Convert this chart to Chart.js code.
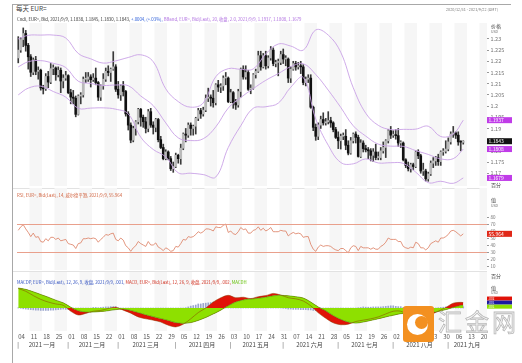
<!DOCTYPE html>
<html>
<head>
<meta charset="utf-8">
<title>每天 EUR=</title>
<script src="https://cdn.jsdelivr.net/npm/chart.js@4.4.1/dist/chart.umd.min.js"></script>
<style>
  body { margin: 0; width: 522px; height: 363px; overflow: hidden; position: relative; background: #fff;
         font-family: "Noto Sans CJK SC", "Noto Sans", sans-serif; }
  canvas { position: absolute; left: 0; }
  .line { position: absolute; background: #a8a8a8; }
  #title { position: absolute; left: 16px; top: 5px; font-size: 6.5px; color: #444; line-height: 1; white-space: nowrap; }
  #logo { position: absolute; left: 403px; top: 306px; width: 31px; height: 36px; background: #f39020; border-radius: 3px; overflow: hidden; }
  #ring { position: absolute; left: 4px; top: 8px; width: 21px; height: 21px; border-radius: 50%; background: #fff; }
  #ring::after { content: ''; position: absolute; left: 8px; top: 2px; width: 13px; height: 13px; border-radius: 50%; background: #f39020; }
  #brand { position: absolute; left: 438px; top: 305px; font-size: 24px; letter-spacing: 3px; line-height: 1.3;
           color: rgba(246,246,246,0.85); -webkit-text-stroke: 0.8px #b8b8b8; white-space: nowrap; }
</style>
</head>
<body>
<div class="line" style="left:12px;top:4px;width:1px;height:359px"></div>
<div class="line" style="left:12px;top:4px;width:499px;height:1px"></div>
<div class="line" style="left:13px;top:188px;width:474px;height:1px;background:#e2e2e2"></div>
<div class="line" style="left:13px;top:271px;width:474px;height:1px;background:#e2e2e2"></div>
<div id="title">每天 EUR=</div>
<canvas id="main" width="522" height="188" style="top:0"></canvas>
<canvas id="rsi" width="522" height="84" style="top:188px"></canvas>
<canvas id="macd" width="522" height="91" style="top:272px"></canvas>
<div id="logo"><div id="ring"></div></div>
<div id="brand">汇金网</div>
<script>
const FONT = '"Noto Sans CJK SC", "Noto Sans", sans-serif'
Chart.defaults.font.family = FONT

// daily candles, 4 Jan - 9 Sep 2021
const opens = [1.2215,1.2250,1.2297,1.2324,1.2271,1.2220,1.2151,1.2206,1.2155,1.2160,
  1.2081,1.2077,1.2132,1.2107,1.2167,1.2170,1.2140,1.2160,1.2112,1.2125,
  1.2136,1.2060,1.2040,1.2035,1.1963,1.2045,1.2050,1.2120,1.2120,1.2130,
  1.2118,1.2125,1.2105,1.2040,1.2090,1.2120,1.2155,1.2150,1.2165,1.2175,
  1.2075,1.2050,1.2090,1.2065,1.1965,1.1915,1.1848,1.1900,1.1930,1.1985,
  1.1950,1.1930,1.1900,1.1975,1.1915,1.1905,1.1940,1.1850,1.1815,1.1765,
  1.1795,1.1765,1.1720,1.1730,1.1780,1.1765,1.1812,1.1875,1.1870,1.1915,
  1.1900,1.1910,1.1945,1.1980,1.1965,1.1982,1.2035,1.2040,1.2035,1.2015,
  1.2095,1.2085,1.2090,1.2125,1.2125,1.2020,1.2060,1.2015,1.2005,1.2065,
  1.2165,1.2130,1.2150,1.2075,1.2080,1.2140,1.2155,1.2225,1.2175,1.2225,
  1.2180,1.2215,1.2250,1.2190,1.2195,1.2195,1.2230,1.2210,1.2210,1.2125,
  1.2165,1.2190,1.2175,1.2180,1.2175,1.2105,1.2120,1.2125,1.1995,1.1905,
  1.1865,1.1915,1.1940,1.1925,1.1930,1.1935,1.1925,1.1895,1.1860,1.1845,
  1.1865,1.1865,1.1825,1.1790,1.1845,1.1875,1.1860,1.1775,1.1835,1.1810,
  1.1805,1.1800,1.1780,1.1795,1.1770,1.1770,1.1800,1.1815,1.1845,1.1890,
  1.1870,1.1870,1.1868,1.1835,1.1835,1.1760,1.1735,1.1720,1.1738,1.1730,
  1.1795,1.1778,1.1710,1.1710,1.1675,1.1697,1.1745,1.1755,1.1770,1.1752,
  1.1795,1.1798,1.1808,1.1840,1.1875,1.1880,1.1870,1.1840,1.1838]
const highs = [1.2310,1.2305,1.2349,1.2338,1.2280,1.2230,1.2215,1.2222,1.2175,1.2165,
  1.2093,1.2145,1.2155,1.2190,1.2184,1.2175,1.2175,1.2170,1.2140,1.2155,
  1.2140,1.2075,1.2070,1.2045,1.2050,1.2060,1.2130,1.2150,1.2150,1.2140,
  1.2145,1.2170,1.2110,1.2095,1.2145,1.2170,1.2180,1.2170,1.2243,1.2185,
  1.2110,1.2095,1.2110,1.2070,1.1975,1.1925,1.1910,1.1935,1.1990,1.1990,
  1.1960,1.1950,1.1985,1.1990,1.1930,1.1945,1.1945,1.1865,1.1830,1.1805,
  1.1800,1.1775,1.1750,1.1790,1.1785,1.1830,1.1880,1.1900,1.1925,1.1925,
  1.1915,1.1950,1.1990,1.1990,1.1995,1.2050,1.2080,1.2050,1.2070,1.2100,
  1.2115,1.2100,1.2135,1.2150,1.2130,1.2075,1.2065,1.2030,1.2075,1.2170,
  1.2180,1.2180,1.2160,1.2095,1.2145,1.2165,1.2245,1.2245,1.2235,1.2245,
  1.2225,1.2266,1.2260,1.2205,1.2210,1.2245,1.2255,1.2225,1.2215,1.2175,
  1.2200,1.2200,1.2195,1.2200,1.2185,1.2130,1.2140,1.2140,1.2000,1.1920,
  1.1925,1.1955,1.1970,1.1945,1.1975,1.1950,1.1930,1.1905,1.1885,1.1875,
  1.1880,1.1895,1.1845,1.1860,1.1880,1.1885,1.1870,1.1850,1.1845,1.1825,
  1.1815,1.1810,1.1810,1.1830,1.1795,1.1815,1.1840,1.1850,1.1895,1.1909,
  1.1890,1.1895,1.1900,1.1845,1.1840,1.1765,1.1750,1.1745,1.1745,1.1800,
  1.1805,1.1785,1.1745,1.1718,1.1705,1.1755,1.1770,1.1775,1.1785,1.1800,
  1.1810,1.1845,1.1858,1.1885,1.1909,1.1885,1.1885,1.1845,1.1845]
const lows = [1.2193,1.2240,1.2265,1.2245,1.2165,1.2132,1.2140,1.2140,1.2120,1.2071,
  1.2054,1.2070,1.2082,1.2100,1.2140,1.2115,1.2130,1.2060,1.2081,1.2115,
  1.2055,1.2010,1.2010,1.1952,1.1960,1.2010,1.2040,1.2105,1.2110,1.2085,
  1.2110,1.2095,1.2025,1.2025,1.2075,1.2110,1.2135,1.2110,1.2160,1.2065,
  1.2035,1.2025,1.2045,1.1955,1.1893,1.1836,1.1840,1.1870,1.1920,1.1910,
  1.1905,1.1880,1.1885,1.1905,1.1875,1.1885,1.1840,1.1810,1.1760,1.1760,
  1.1760,1.1712,1.1704,1.1725,1.1745,1.1740,1.1805,1.1840,1.1860,1.1870,
  1.1870,1.1875,1.1935,1.1945,1.1955,1.1975,1.2020,1.2000,1.1995,1.2005,
  1.2065,1.2060,1.2070,1.2095,1.2015,1.2015,1.1990,1.1985,1.1995,1.2040,
  1.2120,1.2120,1.2070,1.2055,1.2075,1.2125,1.2150,1.2160,1.2170,1.2165,
  1.2170,1.2205,1.2180,1.2175,1.2135,1.2185,1.2190,1.2180,1.2105,1.2105,
  1.2160,1.2160,1.2165,1.2145,1.2095,1.2090,1.2105,1.1990,1.1890,1.1847,
  1.1850,1.1900,1.1915,1.1915,1.1920,1.1905,1.1885,1.1855,1.1810,1.1808,
  1.1850,1.1805,1.1782,1.1785,1.1835,1.1835,1.1772,1.1770,1.1795,1.1795,
  1.1765,1.1755,1.1752,1.1760,1.1760,1.1760,1.1790,1.1770,1.1835,1.1855,
  1.1860,1.1852,1.1820,1.1815,1.1755,1.1725,1.1710,1.1705,1.1715,1.1725,
  1.1765,1.1700,1.1690,1.1665,1.1664,1.1690,1.1725,1.1735,1.1735,1.1735,
  1.1780,1.1790,1.1800,1.1830,1.1860,1.1855,1.1825,1.1800,1.1830]
const closes = [1.2250,1.2297,1.2324,1.2271,1.2220,1.2151,1.2206,1.2155,1.2160,1.2081,
  1.2077,1.2132,1.2107,1.2167,1.2170,1.2140,1.2160,1.2112,1.2125,1.2136,
  1.2060,1.2040,1.2035,1.1963,1.2045,1.2050,1.2120,1.2120,1.2130,1.2118,
  1.2125,1.2105,1.2040,1.2090,1.2120,1.2155,1.2150,1.2165,1.2175,1.2075,
  1.2050,1.2090,1.2065,1.1965,1.1915,1.1848,1.1900,1.1930,1.1985,1.1950,
  1.1930,1.1900,1.1975,1.1915,1.1905,1.1940,1.1850,1.1815,1.1765,1.1795,
  1.1765,1.1720,1.1730,1.1780,1.1765,1.1812,1.1875,1.1870,1.1915,1.1900,
  1.1910,1.1945,1.1980,1.1965,1.1982,1.2035,1.2040,1.2035,1.2015,1.2095,
  1.2085,1.2090,1.2125,1.2125,1.2020,1.2060,1.2015,1.2005,1.2065,1.2165,
  1.2130,1.2150,1.2075,1.2080,1.2140,1.2155,1.2225,1.2175,1.2225,1.2180,
  1.2215,1.2250,1.2190,1.2195,1.2195,1.2230,1.2210,1.2210,1.2125,1.2165,
  1.2190,1.2175,1.2180,1.2175,1.2105,1.2120,1.2125,1.1995,1.1905,1.1865,
  1.1915,1.1940,1.1925,1.1930,1.1935,1.1925,1.1895,1.1860,1.1845,1.1865,
  1.1865,1.1825,1.1790,1.1845,1.1875,1.1860,1.1775,1.1835,1.1810,1.1805,
  1.1800,1.1780,1.1795,1.1770,1.1770,1.1800,1.1815,1.1845,1.1890,1.1870,
  1.1870,1.1868,1.1835,1.1835,1.1760,1.1735,1.1720,1.1738,1.1730,1.1795,
  1.1778,1.1710,1.1710,1.1675,1.1697,1.1745,1.1755,1.1770,1.1752,1.1795,
  1.1798,1.1808,1.1840,1.1875,1.1880,1.1870,1.1840,1.1839,1.1843]

// bollinger band (20, 2.0), read at these day positions
const bbIdx = [0,4,9,14,19,24,29,34,39,44,49,54,59,64,69,74,79,84,89,94,99,104,109,114,119,124,129,134,139,144,149,154,159,164,169,174,178]
const bbUpper = [1.2300,1.2316,1.2317,1.2317,1.2304,1.2235,1.2211,1.2192,1.2202,1.2217,1.2229,1.2198,1.2077,1.2020,1.1995,1.2014,1.2131,1.2167,1.2164,1.2166,1.2233,1.2277,1.2268,1.2250,1.2340,1.2317,1.2240,1.2082,1.1968,1.1914,1.1895,1.1896,1.1897,1.1910,1.1864,1.1875,1.1937]
const bbMid = [1.2175,1.2198,1.2203,1.2191,1.2172,1.2111,1.2101,1.2092,1.2094,1.2091,1.2045,1.2002,1.1925,1.1858,1.1846,1.1854,1.1907,1.1991,1.2038,1.2078,1.2115,1.2145,1.2176,1.2189,1.2141,1.2071,1.1994,1.1912,1.1866,1.1830,1.1821,1.1820,1.1801,1.1784,1.1764,1.1765,1.1808]
const bbLower = [1.2050,1.2080,1.2089,1.2065,1.2040,1.1990,1.1991,1.1992,1.1986,1.1965,1.1861,1.1806,1.1773,1.1702,1.1700,1.1694,1.1683,1.1815,1.1912,1.1990,1.1997,1.2013,1.2084,1.2128,1.1942,1.1825,1.1748,1.1742,1.1764,1.1746,1.1747,1.1744,1.1705,1.1658,1.1664,1.1655,1.1679]

// RSI 14, daily
const rsi = [61,66,69,63,58,52,57,51,52,45, 44,49,46,51,51,48,50,46,47,48,
  42,41,40,35,42,43,49,49,50,49, 50,49,44,48,51,55,54,56,57,48,
  46,50,47,39,36,31,36,39,45,42, 40,38,45,40,40,43,37,35,32,36,
  34,31,32,38,37,42,48,47,52,51, 52,55,59,57,59,63,63,62,60,66,
  65,65,68,70,58,60,56,55,59,65, 62,63,57,57,61,62,66,61,64,60,
  62,65,59,59,59,61,60,60,53,56, 58,56,57,56,51,52,52,41,34,31,
  37,40,38,39,39,38,35,33,32,35, 35,32,29,36,39,38,32,38,36,36,
  36,34,36,34,34,38,40,44,50,48, 48,48,45,45,38,36,35,37,36,44,
  42,36,36,33,36,42,44,46,44,50, 50,52,55,60,61,59,56,53,55.964]
const rsiLevels = [70, 30]
const rsiTicks = [10, 20, 30, 40, 50, 60, 70, 80]

// MACD 12/26/9, read every third day
const macdIdx = [0,3,6,9,12,15,18,21,24,27,30,33,36,39,42,45,48,51,54,57,60,63,66,69,72,75,78,81,84,87,90,93,96,99,102,105,108,111,114,117,120,123,126,129,132,135,138,141,144,147,150,153,156,159,162,165,168,171,174,177,178]
const macdLine = [.0072,.0062,.0046,.0032,.0022,.0015,.0010,-.0012,-.0026,-.0020,-.0012,-.0009,-.0002,.0003,-.0008,-.0019,-.0033,-.0040,-.0045,-.0052,-.0064,-.0070,-.0060,-.0040,-.0017,.0000,.0022,.0038,.0047,.0038,.0040,.0035,.0042,.0046,.0054,.0048,.0038,.0034,.0026,.0008,-.0018,-.0038,-.0055,-.0062,-.0060,-.0050,-.0045,-.0040,-.0033,-.0022,-.0012,-.0012,-.0025,-.0024,-.0028,-.0024,-.0012,.0002,.0018,.0021,.0020]
const macdSignal = [.0074,.0069,.0060,.0050,.0040,.0029,.0019,.0003,-.0010,-.0015,-.0015,-.0013,-.0010,-.0006,-.0004,-.0009,-.0017,-.0025,-.0032,-.0039,-.0046,-.0054,-.0057,-.0054,-.0046,-.0035,-.0022,-.0008,.0008,.0022,.0030,.0033,.0036,.0040,.0045,.0047,.0045,.0042,.0037,.0022,.0004,-.0010,-.0028,-.0042,-.0052,-.0056,-.0052,-.0046,-.0040,-.0033,-.0027,-.0021,-.0020,-.0020,-.0020,-.0017,-.0013,-.0006,.0002,.0009,.0010]
const macdHist = [.0001,-.0001,-.0003,-.0004,-.0005,-.0006,-.0007,-.0008,-.0008,-.0009,
  -.0009,-.0009,-.0009,-.0008,-.0008,-.0007,-.0006,-.0005,-.0004,-.0005,
  -.0006,-.0007,-.0008,-.0008,-.0008,-.0006,-.0005,-.0004,-.0002,-.0001,
  .0002,.0002,.0001,.0002,.0003,.0004,.0004,.0005,.0005,.0005,
  .0001,-.0001,-.0002,-.0004,-.0005,-.0005,-.0006,-.0007,-.0008,-.0008,
  -.0008,-.0008,-.0007,-.0007,-.0007,-.0007,-.0007,-.0007,-.0008,-.0008,
  -.0009,-.0009,-.0009,-.0008,-.0006,-.0004,-.0002,.0001,.0004,.0007,
  .0009,.0011,.0015,.0015,.0017,.0018,.0019,.0020,.0022,.0023,
  .0023,.0023,.0023,.0022,.0020,.0015,.0011,.0008,.0006,.0006,
  .0005,.0004,.0002,.0001,.0002,.0002,.0003,.0003,.0003,.0003,
  .0004,.0004,.0005,.0004,.0002,.0001,-.0001,-.0002,-.0004,-.0004,
  -.0005,-.0005,-.0005,-.0006,-.0006,-.0006,-.0007,-.0007,-.0009,-.0010,
  -.0011,-.0013,-.0014,-.0014,-.0014,-.0014,-.0014,-.0013,-.0011,-.0010,
  -.0009,-.0008,-.0007,-.0005,-.0003,-.0002,.0001,.0002,.0004,.0003,
  .0003,.0003,.0004,.0004,.0004,.0004,.0005,.0006,.0007,.0008,
  .0008,.0006,.0005,.0005,.0002,.0000,-.0003,-.0003,-.0002,-.0002,
  -.0003,-.0004,-.0004,-.0004,-.0004,-.0004,-.0003,-.0001,.0001,.0002,
  .0003,.0004,.0006,.0007,.0008,.0007,.0007,.0006,.0005]

const monthNames = ['2021 一月','2021 二月','2021 三月','2021 四月','2021 五月','2021 六月','2021 七月','2021 八月','2021 九月']

// trading days on the axis: weekdays 4 Jan - 22 Sep 2021
const days = []
for (let d = new Date(Date.UTC(2021, 0, 4)); d <= new Date(Date.UTC(2021, 8, 22)); d.setUTCDate(d.getUTCDate() + 1)) {
    if (d.getUTCDay() > 0 && d.getUTCDay() < 6) days.push(d.toISOString().slice(0, 10))
}
const mondays = []
const monthStarts = []
days.forEach((d, i) => {
    if (new Date(d).getUTCDay() == 1) mondays.push(i)
    if (i == 0 || d.slice(5, 7) != days[i - 1].slice(5, 7)) monthStarts.push(i)
})

const pts = (idx, vals) => idx.map((d, i) => ({x: days[d], y: vals[i]}))

const BB = '#c9a2e6'
const TAG_PURPLE = '#c03ce8'
const GREEN = '#8ee000'
const RED = '#e01208'

function fixY(s) {
    s.width = 35
    s.paddingTop = 0
    s.paddingBottom = 0
}

function texts(ctx, x, y, runs, size) {
    ctx.save()
    ctx.font = size + 'px ' + FONT
    ctx.textBaseline = 'middle'
    runs.forEach(r => {
        ctx.fillStyle = r[1]
        ctx.fillText(r[0], x, y)
        x += ctx.measureText(r[0]).width
    })
    ctx.restore()
}

function tag(ctx, y, text, bg, h) {
    h = h || 6
    ctx.save()
    ctx.fillStyle = bg
    ctx.fillRect(487, y - h / 2, 25, h)
    ctx.fillStyle = '#fff'
    ctx.font = (h - 1) + 'px ' + FONT
    ctx.textBaseline = 'middle'
    ctx.fillText(text, 488.5, y + 0.3)
    ctx.restore()
}

// alternating weekly background columns
const stripes = {
    id: 'stripes',
    beforeDraw(chart, args, opts) {
        const {ctx, chartArea: a, scales: {x}} = chart
        const half = (x.getPixelForValue(1) - x.getPixelForValue(0)) / 2
        const top = opts.fromTop ? 0 : a.top
        ctx.save()
        ctx.fillStyle = '#f6f6f6'
        mondays.forEach((m, k) => {
            if (k % 2 == 0) return
            let x0 = x.getPixelForValue(m) - half
            let x1 = k + 1 < mondays.length ? x.getPixelForValue(mondays[k + 1]) - half : a.right
            ctx.fillRect(x0, top, x1 - x0, a.bottom - top)
        })
        ctx.restore()
    }
}

const mainText = {
    id: 'mainText',
    afterDraw(chart) {
        const ctx = chart.ctx
        const y = chart.scales.y
        texts(ctx, 17, 19, [
            ['Cndl, EUR=, Bid, 2021/9/9, 1.1838, 1.1845, 1.1830, 1.1843, ', '#333'],
            ['+.0004, (+.03%), ', '#2a5cd8'],
            ['BBand, EUR=, Bid(Last), 20, 收盘, 2.0, 2021/9/9, 1.1937, 1.1808, 1.1679', '#b070e0']
        ], 4.3)
        texts(ctx, 446, 9.5, [['2020/12/31 - 2021/9/22 (GMT)', '#777']], 3.8)
        texts(ctx, 491, 26.5, [['价格', '#444']], 5)
        texts(ctx, 491, 31.5, [['USD', '#666']], 3.5)
        texts(ctx, 491, 185.5, [['百分', '#444']], 5)
        tag(ctx, y.getPixelForValue(bbUpper[bbUpper.length - 1]), '1.1937', TAG_PURPLE)
        tag(ctx, y.getPixelForValue(closes[closes.length - 1]), '1.1843', '#111')
        tag(ctx, y.getPixelForValue(bbMid[bbMid.length - 1]), '1.1808', TAG_PURPLE)
        tag(ctx, y.getPixelForValue(bbLower[bbLower.length - 1]), '1.1679', TAG_PURPLE)
    }
}

const rsiText = {
    id: 'rsiText',
    afterDraw(chart) {
        const {ctx, chartArea: a, scales: {y}} = chart
        ctx.save()
        ctx.strokeStyle = '#e9a08c'
        ctx.lineWidth = 1
        rsiLevels.forEach(v => {
            let py = Math.round(y.getPixelForValue(v)) + 0.5
            ctx.beginPath()
            ctx.moveTo(a.left, py)
            ctx.lineTo(a.right, py)
            ctx.stroke()
        })
        ctx.restore()
        texts(ctx, 17, 7, [['RSI, EUR=, Bid(Last), 14, 威尔德平滑, 2021/9/9, 55.964', '#d0603c']], 4.3)
        texts(ctx, 491, 12, [['值', '#444']], 5)
        texts(ctx, 491, 18, [['USD', '#666']], 3.5)
        tag(ctx, y.getPixelForValue(rsi[rsi.length - 1]), '55.964', '#e02818')
    }
}

const macdText = {
    id: 'macdText',
    afterDraw(chart) {
        const {ctx, chartArea: a, scales: {x, y}} = chart
        const half = (x.getPixelForValue(1) - x.getPixelForValue(0)) / 2
        texts(ctx, 17, 10, [
            ['MACDP, EUR=, Bid(Last), 12, 26, 9, 收盘, 2021/9/9, .001, ', '#3050c0'],
            ['MACD, EUR=, Bid(Last), 12, 26, 9, 收盘, 2021/9/9, .002, ', '#d03020'],
            ['MACDH', '#60c000']
        ], 4.3)
        texts(ctx, 491, 4, [['百分', '#444']], 5)
        texts(ctx, 491, 16, [['值', '#444']], 5)
        texts(ctx, 491, 21, [['USD', '#666']], 3.5)
        tag(ctx, y.getPixelForValue(.0035), '.002', RED, 4)
        tag(ctx, y.getPixelForValue(.0020), '.001', '#1a1aa0', 4)
        tag(ctx, y.getPixelForValue(.0005), '.001', GREEN, 4)
        // month names under the week ticks
        ctx.save()
        ctx.font = '6px ' + FONT
        ctx.fillStyle = '#444'
        ctx.textBaseline = 'middle'
        monthStarts.forEach((s, k) => {
            let x0 = x.getPixelForValue(s) - half
            let x1 = k + 1 < monthStarts.length ? x.getPixelForValue(monthStarts[k + 1]) - half : a.right
            ctx.textAlign = 'center'
            ctx.fillText('|', x0 + 1, 73)
            ctx.fillText(monthNames[k], (x0 + x1) / 2, 73)
        })
        ctx.restore()
    }
}

new Chart(document.getElementById('main'), {
    type: 'bar',
    data: {
        labels: days,
        datasets: [
            {type: 'line', data: pts(bbIdx, bbUpper), borderColor: BB, borderWidth: 0.9, pointRadius: 0, tension: 0.4, order: 0},
            {type: 'line', data: pts(bbIdx, bbMid), borderColor: BB, borderWidth: 0.9, pointRadius: 0, tension: 0.4, order: 0},
            {type: 'line', data: pts(bbIdx, bbLower), borderColor: BB, borderWidth: 0.9, pointRadius: 0, tension: 0.4, order: 0},
            {
                data: closes.map((c, i) => [opens[i], c]),
                backgroundColor: closes.map((c, i) => c >= opens[i] ? '#b9b9b9' : '#111'),
                barThickness: 2, minBarLength: 1, grouped: false, order: 1
            },
            {data: lows.map((l, i) => [l, highs[i]]), backgroundColor: '#3a3a3a', barThickness: 1, grouped: false, order: 2}
        ]
    },
    options: {
        responsive: false,
        animation: false,
        layout: {padding: {left: 17, top: 23, right: 0, bottom: 2}},
        plugins: {legend: {display: false}, tooltip: {enabled: false}},
        scales: {
            x: {display: false, offset: true},
            y: {
                position: 'right', min: 1.1643, max: 1.2371,
                afterFit: fixY,
                afterBuildTicks: s => { s.ticks = s.ticks.filter(t => t.value > 1.1699 && t.value < 1.2301) },
                grid: {drawOnChartArea: false, tickLength: 2, color: '#999'},
                border: {display: false},
                ticks: {stepSize: 0.005, includeBounds: false, padding: 1.5, color: '#777', font: {size: 5.5},
                    callback: v => String(+v.toFixed(4))}
            }
        }
    },
    plugins: [stripes, mainText]
})

new Chart(document.getElementById('rsi'), {
    type: 'line',
    data: {
        labels: days,
        datasets: [{data: rsi, borderColor: '#dc7c60', borderWidth: 0.8, pointRadius: 0}]
    },
    options: {
        responsive: false,
        animation: false,
        layout: {padding: {left: 17, top: 2, right: 0, bottom: 2}},
        plugins: {legend: {display: false}, tooltip: {enabled: false}, stripes: {fromTop: true}},
        scales: {
            x: {display: false, offset: true},
            y: {
                position: 'right', min: 4.3, max: 118.6,
                afterFit: fixY,
                afterBuildTicks: s => { s.ticks = rsiTicks.map(v => ({value: v})) },
                grid: {drawOnChartArea: false, tickLength: 2, color: '#999'},
                border: {display: false},
                ticks: {padding: 1.5, color: '#777', font: {size: 4.5}}
            }
        }
    },
    plugins: [stripes, rsiText]
})

new Chart(document.getElementById('macd'), {
    type: 'line',
    data: {
        labels: days,
        datasets: [
            {type: 'bar', data: macdHist, backgroundColor: '#9aa4cc', barThickness: 1, order: 4},
            {data: pts(macdIdx, macdSignal), borderColor: '#4f8f00', borderWidth: 0.6, pointRadius: 0, tension: 0.3,
                fill: {target: 'origin', above: GREEN, below: GREEN}, order: 2},
            {data: pts(macdIdx, macdLine), borderColor: 'rgba(0,0,0,0)', borderWidth: 0, pointRadius: 0, tension: 0.3,
                fill: {target: 1, above: RED, below: RED}, order: 3},
            {data: pts(macdIdx, macdLine), borderColor: '#8a3a00', borderWidth: 0.5, pointRadius: 0, tension: 0.3, fill: false, order: 1}
        ]
    },
    options: {
        responsive: false,
        animation: false,
        layout: {padding: {left: 17, top: 12, right: 0, bottom: 0}},
        plugins: {legend: {display: false}, tooltip: {enabled: false}, stripes: {fromTop: true}},
        scales: {
            x: {
                offset: true,
                afterFit: s => { s.height = 32; s.paddingLeft = 0; s.paddingRight = 0 },
                grid: {display: false, drawTicks: false},
                border: {display: false},
                ticks: {autoSkip: false, maxRotation: 0, minRotation: 0, align: 'start', padding: 2, color: '#555', font: {size: 6},
                    callback: (v, i) => new Date(days[i]).getUTCDay() == 1 ? days[i].slice(8) : ''}
            },
            y: {
                position: 'right', min: -0.00852, max: 0.00889,
                afterFit: fixY,
                grid: {display: false},
                border: {display: false},
                ticks: {display: false}
            }
        }
    },
    plugins: [stripes, macdText]
})
</script>
</body>
</html>
